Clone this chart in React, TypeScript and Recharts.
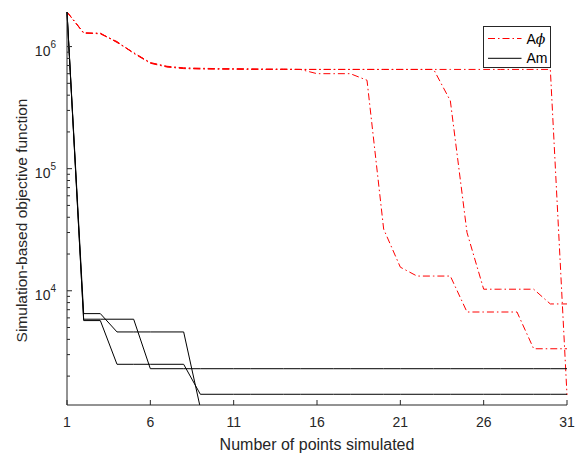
import React from 'react'
import { LineChart, Line, XAxis, YAxis } from 'recharts'

// iteration index (number of points simulated)
const points = [1, 2, 3, 4, 5, 6, 7, 8, 9, 10, 11, 12, 13, 14, 15, 16, 17, 18, 19, 20, 21, 22, 23, 24, 25, 26, 27, 28, 29, 30, 31]

// A-phi runs (red dash-dot)
const aphiRun1 = [1.92e6, 1.29e6, 1.28e6, 1.09e6, 8.9e5, 7.4e5, 6.9e5, 6.7e5, 6.65e5, 6.6e5, 6.6e5, 6.58e5, 6.55e5, 6.55e5, 6.5e5, 6.0e5, 6.0e5, 6.0e5, 5.3e5, 3.2e4, 1.56e4, 1.32e4, 1.32e4, 1.32e4, 6.7e3, 6.7e3, 6.7e3, 6.7e3, 3.35e3, 3.35e3, 3.35e3]
const aphiRun2 = [1.92e6, 1.3e6, 1.27e6, 1.1e6, 8.8e5, 7.3e5, 6.8e5, 6.6e5, 6.55e5, 6.55e5, 6.52e5, 6.52e5, 6.5e5, 6.5e5, 6.5e5, 6.5e5, 6.5e5, 6.5e5, 6.5e5, 6.5e5, 6.5e5, 6.5e5, 6.5e5, 3.6e5, 3.0e4, 1.03e4, 1.03e4, 1.03e4, 1.03e4, 7.8e3, 7.8e3]
const aphiRun3 = [1.92e6, 1.29e6, 1.29e6, 1.08e6, 8.9e5, 7.35e5, 6.85e5, 6.65e5, 6.6e5, 6.55e5, 6.55e5, 6.5e5, 6.5e5, 6.5e5, 6.5e5, 6.5e5, 6.5e5, 6.5e5, 6.5e5, 6.5e5, 6.5e5, 6.5e5, 6.5e5, 6.5e5, 6.5e5, 6.5e5, 6.5e5, 6.5e5, 6.5e5, 6.5e5, 1.4e3]

// Am runs (black solid)
const amRun1 = [1.92e6, 6.5e3, 6.5e3, 4.6e3, 4.6e3, 4.6e3, 4.6e3, 4.6e3, 1.1e3, 1.1e3, 1.1e3, 1.1e3, 1.1e3, 1.1e3, 1.1e3, 1.1e3, 1.1e3, 1.1e3, 1.1e3, 1.1e3, 1.1e3, 1.1e3, 1.1e3, 1.1e3, 1.1e3, 1.1e3, 1.1e3, 1.1e3, 1.1e3, 1.1e3, 1.1e3]
const amRun2 = [1.92e6, 5.7e3, 5.7e3, 2.5e3, 2.5e3, 2.5e3, 2.5e3, 2.5e3, 1.42e3, 1.42e3, 1.42e3, 1.42e3, 1.42e3, 1.42e3, 1.42e3, 1.42e3, 1.42e3, 1.42e3, 1.42e3, 1.42e3, 1.42e3, 1.42e3, 1.42e3, 1.42e3, 1.42e3, 1.42e3, 1.42e3, 1.42e3, 1.42e3, 1.42e3, 1.42e3]
const amRun3 = [1.92e6, 5.85e3, 5.85e3, 5.85e3, 5.85e3, 2.3e3, 2.3e3, 2.3e3, 2.3e3, 2.3e3, 2.3e3, 2.3e3, 2.3e3, 2.3e3, 2.3e3, 2.3e3, 2.3e3, 2.3e3, 2.3e3, 2.3e3, 2.3e3, 2.3e3, 2.3e3, 2.3e3, 2.3e3, 2.3e3, 2.3e3, 2.3e3, 2.3e3, 2.3e3, 2.3e3]

const xTicks = [1, 6, 11, 16, 21, 26, 31]
const yTicks = [
  2000, 3000, 4000, 5000, 6000, 7000, 8000, 9000,
  1e4, 2e4, 3e4, 4e4, 5e4, 6e4, 7e4, 8e4, 9e4,
  1e5, 2e5, 3e5, 4e5, 5e5, 6e5, 7e5, 8e5, 9e5,
  1e6,
]
const yDomain = [1160, 1.92e6]

const data = points.map((x, i) => ({
  x,
  a1: aphiRun1[i],
  a2: aphiRun2[i],
  a3: aphiRun3[i],
  m1: amRun1[i],
  m2: amRun2[i],
  m3: amRun3[i],
}))

const AXIS = '#262626'
const FONT = 'Arial, "Liberation Sans", Helvetica, sans-serif'
const DASHDOT = '7 3 1.5 3'

const isMajor = (v: number) => Math.abs(Math.log10(v) - Math.round(Math.log10(v))) < 1e-9

function BottomTick(props: any) {
  const { x, y, payload } = props
  return (
    <g>
      <line x1={x} y1={y} x2={x} y2={y - 5} stroke={AXIS} />
      <text x={x} y={y + 22} textAnchor="middle" fontSize={14} fill={AXIS} fontFamily={FONT}>
        {payload.value}
      </text>
    </g>
  )
}

function TopTick(props: any) {
  const { x, y } = props
  return <line x1={x} y1={y} x2={x} y2={y + 5} stroke={AXIS} />
}

function LeftTick(props: any) {
  const { x, y, payload } = props
  const v = payload.value
  const major = isMajor(v)
  return (
    <g>
      <line x1={x} y1={y} x2={x + (major ? 5 : 3)} y2={y} stroke={AXIS} />
      {major && (
        <text x={x - 11} y={y + 9} textAnchor="end" fontSize={14} fill={AXIS} fontFamily={FONT}>
          10
          <tspan dy={-8} fontSize={10}>{Math.round(Math.log10(v))}</tspan>
        </text>
      )}
    </g>
  )
}

function RightTick(props: any) {
  const { x, y, payload } = props
  const major = isMajor(payload.value)
  return <line x1={x} y1={y} x2={x - (major ? 5 : 3)} y2={y} stroke={AXIS} />
}

function YTitle(props: any) {
  const vb = props.viewBox || { x: 0, y: 0, width: 0, height: 0 }
  const cx = vb.x + 21
  const cy = vb.y + vb.height / 2 + 12
  return (
    <text
      transform={`translate(${cx},${cy}) rotate(-90)`}
      textAnchor="middle"
      dominantBaseline="central"
      fontSize={15.5}
      fill={AXIS}
      fontFamily={FONT}
    >
      Simulation-based objective function
    </text>
  )
}

function Legend() {
  return (
    <svg
      width={68}
      height={42}
      style={{ position: 'absolute', left: 483, top: 26, overflow: 'visible' }}
    >
      <rect x={0.5} y={0.5} width={67} height={41} fill="#fff" stroke={AXIS} />
      <line x1={5} y1={12.5} x2={38.5} y2={12.5} stroke="#ff0000" strokeDasharray={DASHDOT} />
      <text x={43.5} y={17.5} fontSize={14} fill="#000" fontFamily={FONT}>
        A<tspan fontStyle="italic" fontFamily='"DejaVu Serif", serif'>ϕ</tspan>
      </text>
      <line x1={5} y1={32.3} x2={38.5} y2={32.3} stroke="#000" />
      <text x={43.5} y={37.3} fontSize={14} fill="#000" fontFamily={FONT}>
        Am
      </text>
    </svg>
  )
}

export default function App() {
  const redRuns = ['a1', 'a2', 'a3']
  const blackRuns = ['m1', 'm2', 'm3']
  return (
    <div style={{ position: 'absolute', left: 0, top: 0, width: 578, height: 456, background: '#fff' }}>
      <LineChart width={578} height={456} data={data} margin={{ top: 12, right: 11, bottom: 0, left: 0 }}>
        <XAxis
          xAxisId="b"
          dataKey="x"
          type="number"
          domain={[1, 31]}
          ticks={xTicks}
          interval={0}
          height={51}
          tickSize={0}
          tickMargin={0}
          tickLine={false}
          tick={<BottomTick />}
          axisLine={{ stroke: AXIS }}
          label={{
            value: 'Number of points simulated',
            position: 'insideBottom',
            offset: 6,
            fill: AXIS,
            fontSize: 16,
            fontFamily: FONT,
          }}
        />
        <XAxis
          xAxisId="t"
          orientation="top"
          dataKey="x"
          type="number"
          domain={[1, 31]}
          ticks={xTicks}
          interval={0}
          height={0}
          tickSize={0}
          tickMargin={0}
          tickLine={false}
          tick={<TopTick />}
          axisLine={{ stroke: AXIS }}
        />
        <YAxis
          yAxisId="l"
          type="number"
          scale="log"
          domain={yDomain}
          allowDataOverflow
          ticks={yTicks}
          interval={0}
          width={67}
          tickSize={0}
          tickMargin={0}
          tickLine={false}
          tick={<LeftTick />}
          axisLine={{ stroke: AXIS }}
          label={<YTitle />}
        />
        <YAxis
          yAxisId="r"
          orientation="right"
          type="number"
          scale="log"
          domain={yDomain}
          allowDataOverflow
          ticks={yTicks}
          interval={0}
          width={0}
          tickSize={0}
          tickMargin={0}
          tickLine={false}
          tick={<RightTick />}
          axisLine={{ stroke: AXIS }}
        />
        {redRuns.map((k) => (
          <Line
            key={k}
            xAxisId="b"
            yAxisId="l"
            type="linear"
            dataKey={k}
            stroke="#ff0000"
            strokeWidth={1}
            strokeDasharray={DASHDOT}
            dot={false}
            activeDot={false}
            isAnimationActive={false}
          />
        ))}
        {blackRuns.map((k) => (
          <Line
            key={k}
            xAxisId="b"
            yAxisId="l"
            type="linear"
            dataKey={k}
            stroke="#000000"
            strokeWidth={1}
            dot={false}
            activeDot={false}
            isAnimationActive={false}
          />
        ))}
      </LineChart>
      <Legend />
    </div>
  )
}
